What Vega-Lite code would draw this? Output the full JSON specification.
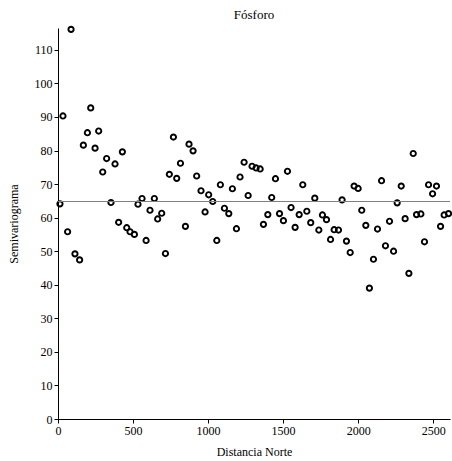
{
  "$schema": "https://vega.github.io/schema/vega-lite/v6.json",
  "autosize": {"type": "none"},
  "padding": {"left": 58, "top": 28, "right": 2, "bottom": 42},
  "width": 392,
  "height": 391,
  "background": "white",
  "config": {
    "view": {"stroke": null},
    "font": "Liberation Serif",
    "axis": {"labelFont": "Liberation Serif", "titleFont": "Liberation Serif", "labelFontSize": 12, "titleFontSize": 12, "titleFontWeight": "normal", "labelColor": "black", "titleColor": "black", "domainColor": "black", "tickColor": "black", "grid": false, "tickSize": 4, "labelFlush": false, "labelOverlap": false, "format": "d"}
  },
  "title": {"text": "Fósforo", "font": "Liberation Serif", "fontSize": 13, "fontWeight": "normal", "color": "black", "offset": 1, "anchor": "middle"},
  "layer": [
    {
      "data": {"values": [
        {"d": 13, "s": 64.1}, {"d": 33, "s": 90.3}, {"d": 64, "s": 55.8}, {"d": 87, "s": 116.1},
        {"d": 113, "s": 49.2}, {"d": 144, "s": 47.4}, {"d": 169, "s": 81.6}, {"d": 196, "s": 85.3},
        {"d": 218, "s": 92.7}, {"d": 247, "s": 80.7}, {"d": 271, "s": 85.8}, {"d": 298, "s": 73.6},
        {"d": 324, "s": 77.6}, {"d": 353, "s": 64.5}, {"d": 380, "s": 76.0}, {"d": 404, "s": 58.6},
        {"d": 429, "s": 79.6}, {"d": 458, "s": 57.0}, {"d": 480, "s": 55.8}, {"d": 509, "s": 55.0},
        {"d": 533, "s": 64.0}, {"d": 560, "s": 65.7}, {"d": 587, "s": 53.2}, {"d": 613, "s": 62.2},
        {"d": 642, "s": 65.7}, {"d": 664, "s": 59.6}, {"d": 691, "s": 61.3}, {"d": 716, "s": 49.3},
        {"d": 742, "s": 72.9}, {"d": 769, "s": 84.0}, {"d": 791, "s": 71.7}, {"d": 816, "s": 76.2},
        {"d": 849, "s": 57.4}, {"d": 873, "s": 81.9}, {"d": 900, "s": 79.9}, {"d": 924, "s": 72.4},
        {"d": 953, "s": 68.0}, {"d": 980, "s": 61.7}, {"d": 1004, "s": 66.8}, {"d": 1031, "s": 64.8},
        {"d": 1058, "s": 53.2}, {"d": 1082, "s": 69.8}, {"d": 1109, "s": 62.8}, {"d": 1138, "s": 61.2},
        {"d": 1162, "s": 68.6}, {"d": 1189, "s": 56.7}, {"d": 1213, "s": 72.1}, {"d": 1240, "s": 76.5},
        {"d": 1267, "s": 66.6}, {"d": 1293, "s": 75.3}, {"d": 1320, "s": 74.8}, {"d": 1347, "s": 74.5},
        {"d": 1369, "s": 58.0}, {"d": 1398, "s": 60.9}, {"d": 1424, "s": 66.0}, {"d": 1449, "s": 71.6},
        {"d": 1476, "s": 61.2}, {"d": 1502, "s": 59.1}, {"d": 1529, "s": 73.8}, {"d": 1553, "s": 63.0},
        {"d": 1580, "s": 57.1}, {"d": 1607, "s": 60.9}, {"d": 1631, "s": 69.8}, {"d": 1658, "s": 61.9},
        {"d": 1684, "s": 58.5}, {"d": 1711, "s": 65.8}, {"d": 1738, "s": 56.3}, {"d": 1762, "s": 60.8},
        {"d": 1789, "s": 59.4}, {"d": 1816, "s": 53.5}, {"d": 1840, "s": 56.4}, {"d": 1869, "s": 56.3},
        {"d": 1893, "s": 65.3}, {"d": 1922, "s": 53.0}, {"d": 1947, "s": 49.6}, {"d": 1973, "s": 69.4},
        {"d": 2000, "s": 68.7}, {"d": 2024, "s": 62.2}, {"d": 2051, "s": 57.7}, {"d": 2075, "s": 39.0},
        {"d": 2102, "s": 47.6}, {"d": 2129, "s": 56.6}, {"d": 2156, "s": 71.0}, {"d": 2182, "s": 51.6},
        {"d": 2209, "s": 58.9}, {"d": 2236, "s": 50.0}, {"d": 2260, "s": 64.4}, {"d": 2287, "s": 69.4},
        {"d": 2313, "s": 59.7}, {"d": 2338, "s": 43.4}, {"d": 2367, "s": 79.1}, {"d": 2389, "s": 60.9},
        {"d": 2418, "s": 61.1}, {"d": 2442, "s": 52.8}, {"d": 2469, "s": 69.8}, {"d": 2496, "s": 67.1},
        {"d": 2522, "s": 69.4}, {"d": 2549, "s": 57.4}, {"d": 2573, "s": 60.8}, {"d": 2602, "s": 61.2}
      ]},
      "mark": {"type": "point", "filled": false, "color": "black", "strokeWidth": 1.9, "size": 28, "opacity": 1},
      "encoding": {
        "x": {"field": "d", "type": "quantitative", "title": "Distancia Norte",
              "scale": {"domain": [0, 2612], "nice": false},
              "axis": {"values": [0, 500, 1000, 1500, 2000, 2500], "titlePadding": 10}},
        "y": {"field": "s", "type": "quantitative", "title": "Semivariograma",
              "scale": {"domain": [0, 116.5], "nice": false},
              "axis": {"values": [0, 10, 20, 30, 40, 50, 60, 70, 80, 90, 100, 110], "titlePadding": 14}}
      }
    },
    {
      "data": {"values": [{"media": 64.8}]},
      "mark": {"type": "rule", "color": "#808080", "strokeWidth": 1.2},
      "encoding": {"y": {"field": "media", "type": "quantitative", "title": "Semivariograma",
              "axis": {"values": [0, 10, 20, 30, 40, 50, 60, 70, 80, 90, 100, 110], "titlePadding": 14}}}
    }
  ]
}
